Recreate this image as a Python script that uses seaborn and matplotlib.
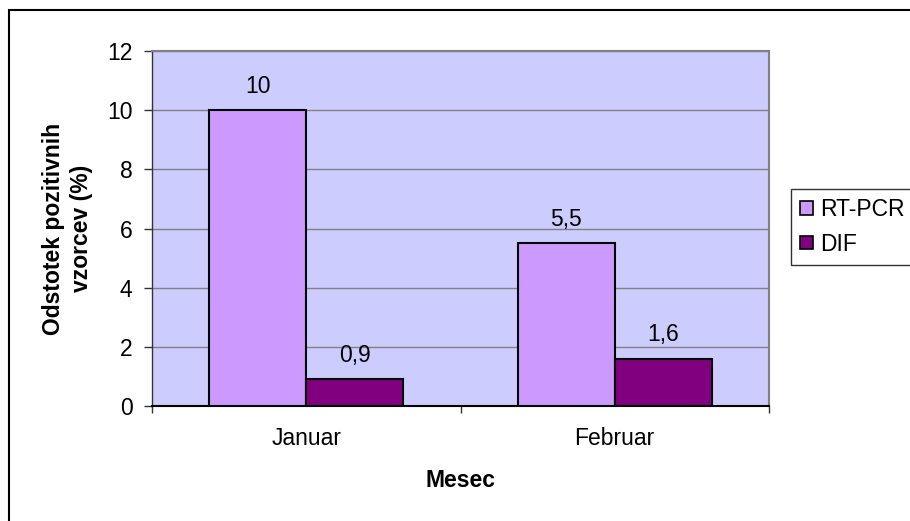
import matplotlib
matplotlib.use("Agg")
import matplotlib.pyplot as plt
from matplotlib.patches import Rectangle, Patch
from matplotlib.ticker import MultipleLocator, FixedLocator
import seaborn as sns
import pandas as pd

months = ["Januar", "Februar"]
series = ["RT-PCR", "DIF"]
rt_pcr = [10, 5.5]
dif = [0.9, 1.6]
colors = {"RT-PCR": "#CC99FF", "DIF": "#800080"}

df = pd.DataFrame({
    "Mesec": months * 2,
    "Metoda": ["RT-PCR"] * len(months) + ["DIF"] * len(months),
    "Vrednost": rt_pcr + dif,
})

sns.set_theme(style="white")
plt.rcParams["font.family"] = ["Liberation Sans", "DejaVu Sans"]
plt.rcParams.update({"text.color": "black", "axes.labelcolor": "black",
                     "xtick.color": "black", "ytick.color": "black"})

FS = 16.5

fig = plt.figure(figsize=(9.10, 5.21), dpi=100)
ax = fig.add_axes([152 / 910, 1 - 406 / 521, (769 - 152) / 910, (406 - 51) / 521])
ax.set_facecolor("#CCCCFF")

sns.barplot(data=df, x="Mesec", y="Vrednost", hue="Metoda", order=months,
            hue_order=series, palette=colors, width=0.628, saturation=1,
            edgecolor="black", linewidth=1.5, ax=ax, legend=False, zorder=3)

# value labels with decimal comma
for cont in ax.containers:
    vals = [b.get_height() for b in cont]
    labels = [("%g" % v).replace(".", ",") for v in vals]
    ax.bar_label(cont, labels=labels, padding=9, fontsize=FS, color="black")

ax.set_ylim(0, 12)
ax.set_xlim(-0.5, 1.5)
ax.yaxis.set_major_locator(MultipleLocator(2))
ax.grid(axis="y", color="#808080", linewidth=1, zorder=0)
ax.set_axisbelow(True)

ax.tick_params(axis="y", which="major", direction="out", length=6, width=1,
               color="#333333", labelcolor="black", labelsize=FS, pad=8, left=True)
ax.tick_params(axis="x", which="major", length=0, labelsize=FS, labelcolor="black", pad=15)
ax.xaxis.set_minor_locator(FixedLocator([-0.5, 0.5, 1.5]))
ax.tick_params(axis="x", which="minor", direction="out", length=5, width=1,
               color="#333333", bottom=True)

for side in ["top", "right"]:
    ax.spines[side].set_color("#808080")
    ax.spines[side].set_linewidth(1.5)
ax.spines["left"].set_color("#333333")
ax.spines["bottom"].set_color("black")
ax.spines["left"].set_linewidth(1)
ax.spines["bottom"].set_linewidth(1.5)

ax.set_xlabel("Mesec", fontsize=FS, fontweight="bold", labelpad=14)
ax.set_ylabel("Odstotek pozitivnih\nvzorcev (%)", fontsize=FS,
              fontweight="bold", linespacing=1.3)
ax.yaxis.set_label_coords(-0.095, 0.5)

handles = [Patch(facecolor=colors[s], edgecolor="black", linewidth=1.2, label=s)
           for s in series]
leg = fig.legend(handles=handles, loc="upper left",
                 bbox_to_anchor=(791 / 910, 1 - 189 / 521), fontsize=FS,
                 frameon=True, fancybox=False, edgecolor="black",
                 handlelength=0.55, handleheight=0.55, handletextpad=0.3,
                 borderpad=0.4, labelspacing=0.5, borderaxespad=0)
leg.get_frame().set_linewidth(1)

# outer chart frame
fig.patches.append(Rectangle((9 / 910, -0.05), 1.2, 1 - 10 / 521 + 0.05,
                             transform=fig.transFigure, fill=False,
                             edgecolor="black", linewidth=1.5))

fig.savefig("out.png", dpi=100)
